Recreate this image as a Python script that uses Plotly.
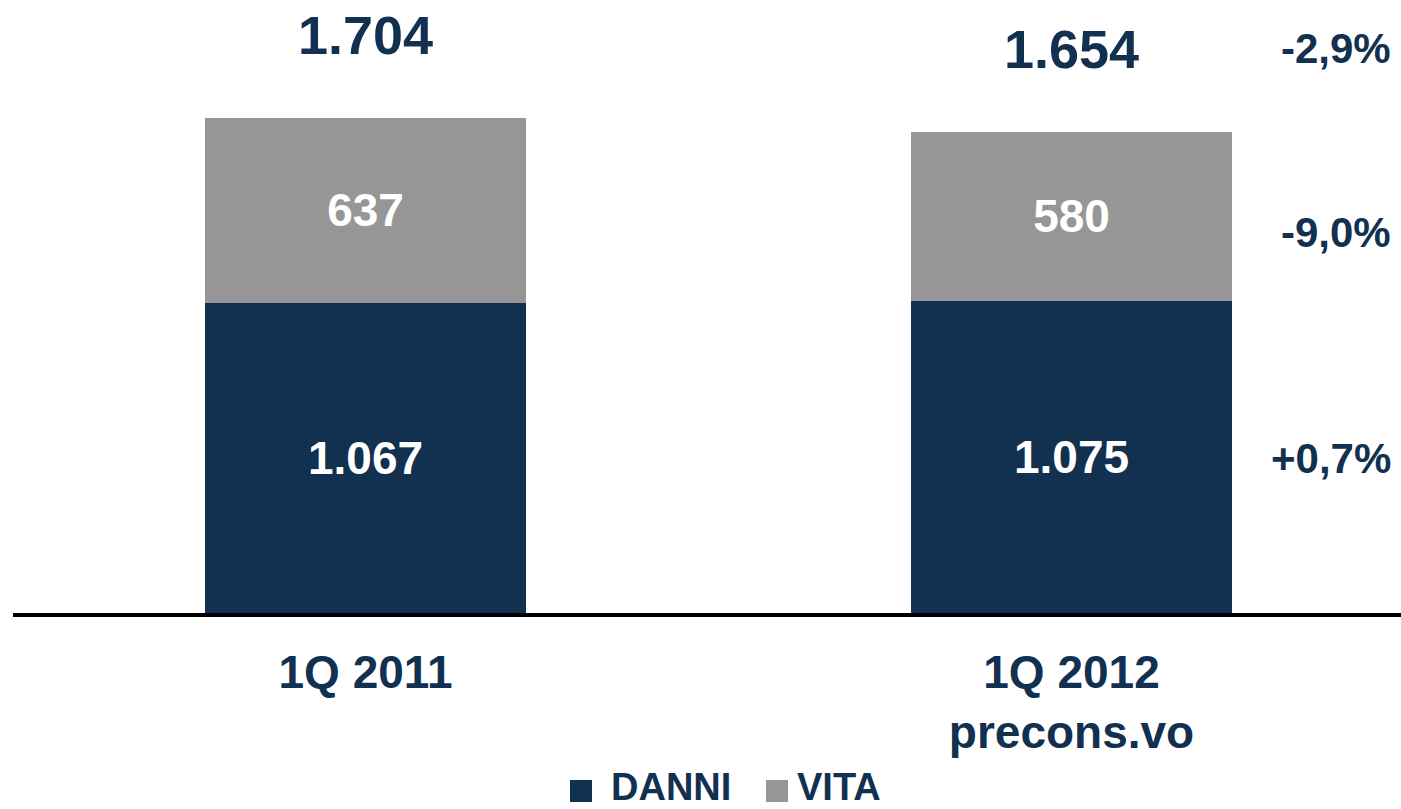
import plotly.graph_objects as go

# Premi per ramo (milioni di euro)
periods = ["1Q 2011", "1Q 2012<br>precons.vo"]
danni = [1067, 1075]
vita = [637, 580]
totals = [1704, 1654]

# Variazioni anno su anno (totale, vita, danni)
changes = ["-2,9%", "-9,0%", "+0,7%"]
change_y_px = [48, 232, 458]

series_names = ["DANNI", "VITA"]

NAVY = "#12304f"
GREY = "#969696"
FONT = "Liberation Sans, Arial, sans-serif"

W, H = 1401, 809
ML, MR, MT, MB = 13, 0, 0, 196
PW, PH = W - ML - MR, H - MT - MB


def px_to_paper_x(px):
    return (px - ML) / PW


def px_to_paper_y(py):
    return (H - MB - py) / PH


def it_num(v):
    return f"{v:,}".replace(",", ".")


fig = go.Figure()
fig.add_trace(go.Bar(
    x=periods, y=danni, name=series_names[0],
    marker=dict(color=NAVY, line=dict(width=0)),
    text=[it_num(v) for v in danni],
    textposition="inside", insidetextanchor="middle",
    textfont=dict(family=FONT, size=46, color="white", weight="bold"),
    width=0.455, showlegend=False,
))
fig.add_trace(go.Bar(
    x=periods, y=vita, name=series_names[1],
    marker=dict(color=GREY, line=dict(width=0)),
    text=[it_num(v) for v in vita],
    textposition="inside", insidetextanchor="middle",
    textfont=dict(family=FONT, size=46, color="white", weight="bold"),
    width=0.455, showlegend=False,
))

annotations = []
# Totali sopra le colonne
for p, t in zip(periods, totals):
    annotations.append(dict(
        x=p, y=t, xref="x", yref="y",
        text=it_num(t),
        showarrow=False, yanchor="middle", yshift=83,
        font=dict(family=FONT, size=54, color=NAVY, weight="bold"),
    ))

# Variazioni percentuali a destra
for txt, py in zip(changes, change_y_px):
    annotations.append(dict(
        x=1, y=px_to_paper_y(py), xref="paper", yref="paper",
        text=txt, showarrow=False, xanchor="right", yanchor="middle",
        xshift=-8,
        font=dict(family=FONT, size=42, color=NAVY, weight="bold"),
    ))

# Legenda
legend_items = [(series_names[0], NAVY, 570, 610), (series_names[1], GREY, 766, 796)]
shapes = []
for name, col, sq_x, txt_x in legend_items:
    shapes.append(dict(
        type="rect", xref="paper", yref="paper",
        x0=px_to_paper_x(sq_x), x1=px_to_paper_x(sq_x + 22),
        y0=px_to_paper_y(802), y1=px_to_paper_y(780),
        fillcolor=col, line=dict(width=0),
    ))
    annotations.append(dict(
        x=px_to_paper_x(txt_x), y=px_to_paper_y(809), xref="paper", yref="paper",
        text=name, showarrow=False, xanchor="left", yanchor="bottom",
        borderpad=0,
        font=dict(family=FONT, size=38, color=NAVY, weight="bold"),
    ))

fig.update_layout(
    width=W, height=H,
    margin=dict(l=ML, r=MR, t=MT, b=MB, pad=0),
    barmode="stack",
    plot_bgcolor="white", paper_bgcolor="white",
    showlegend=False,
    annotations=annotations,
    shapes=shapes,
    font=dict(family=FONT, color=NAVY),
)
fig.update_xaxes(
    type="category", range=[-0.4993, 1.4667],
    showline=True, linecolor="black", linewidth=4,
    showgrid=False, ticks="", ticklabelstandoff=16,
    tickfont=dict(family=FONT, size=46, color=NAVY, weight="bold"),
)
fig.update_yaxes(
    range=[0, 2110], visible=False, showgrid=False,
)

fig.write_html("out.html")
